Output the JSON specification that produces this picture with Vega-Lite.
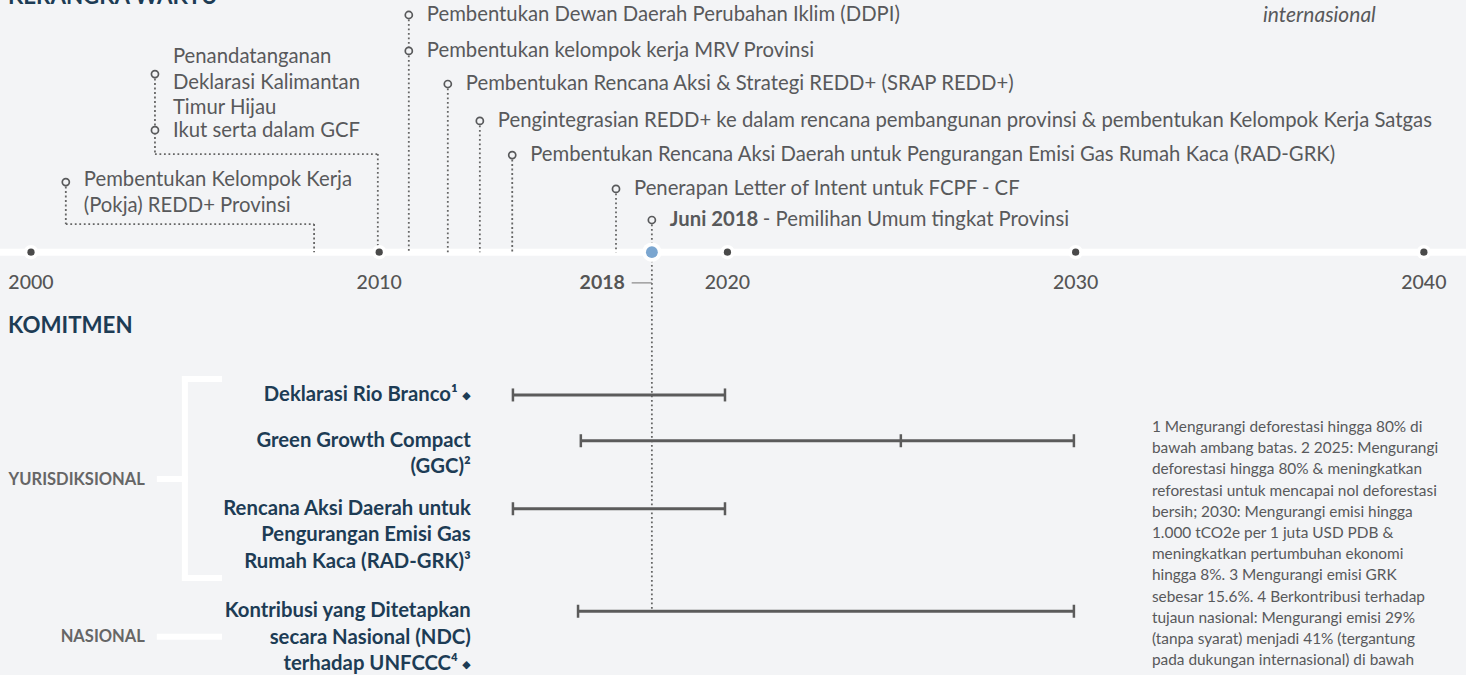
{
  "$schema": "https://vega.github.io/schema/vega-lite/v6.json",
  "width": 1466,
  "height": 675,
  "autosize": {"type": "none"},
  "padding": 0,
  "background": "#f3f4f6",
  "config": {"view": {"stroke": null}, "font": "Lato"},
  "datasets": {
    "line": [{"year": 1999.11, "year2": 2041.21, "level": 7.94}],
    "segs": [
      {"year": 2001.0, "year2": 2001.0, "level": 5.89, "level2": 7.12},
      {"year": 2001.0, "year2": 2008.13, "level": 7.12, "level2": 7.12},
      {"year": 2008.13, "year2": 2008.13, "level": 7.12, "level2": 7.94},
      {"year": 2003.56, "year2": 2003.56, "level": 2.73, "level2": 5.07},
      {"year": 2003.56, "year2": 2009.96, "level": 5.07, "level2": 5.07},
      {"year": 2009.96, "year2": 2009.96, "level": 5.07, "level2": 7.94},
      {"year": 2010.85, "year2": 2010.85, "level": 1.0, "level2": 7.94},
      {"year": 2011.97, "year2": 2011.97, "level": 3.02, "level2": 7.94},
      {"year": 2012.89, "year2": 2012.89, "level": 4.1, "level2": 7.94},
      {"year": 2013.82, "year2": 2013.82, "level": 5.1, "level2": 7.94},
      {"year": 2016.8, "year2": 2016.8, "level": 6.09, "level2": 7.94},
      {"year": 2017.83, "year2": 2017.83, "level": 7.0, "level2": 18.45}
    ],
    "events": [
      {"label": "Pembentukan Dewan Daerah Perubahan Iklim (DDPI)", "year": 2010.85, "level": 1.0, "tlevel": 1.0},
      {"label": "Pembentukan kelompok kerja MRV Provinsi", "year": 2010.85, "level": 2.05, "tlevel": 2.05},
      {"label": "Pembentukan Rencana Aksi & Strategi REDD+ (SRAP REDD+)", "year": 2011.97, "level": 3.02, "tlevel": 3.02},
      {"label": "Pengintegrasian REDD+ ke dalam rencana pembangunan provinsi & pembentukan Kelompok Kerja Satgas", "year": 2012.89, "level": 4.1, "tlevel": 4.1},
      {"label": "Pembentukan Rencana Aksi Daerah untuk Pengurangan Emisi Gas Rumah Kaca (RAD-GRK)", "year": 2013.82, "level": 5.1, "tlevel": 5.1},
      {"label": "Penerapan Letter of Intent untuk FCPF - CF", "year": 2016.8, "level": 6.09, "tlevel": 6.09},
      {"label": "Penandatanganan\nDeklarasi Kalimantan\nTimur Hijau", "year": 2003.56, "level": 2.73, "tlevel": 2.23},
      {"label": "Ikut serta dalam GCF", "year": 2003.56, "level": 4.37, "tlevel": 4.39},
      {"label": "Pembentukan Kelompok Kerja\n(Pokja) REDD+ Provinsi", "year": 2001.0, "level": 5.89, "tlevel": 5.83},
      {"label": "", "year": 2017.83, "level": 7.0, "tlevel": 7.0}
    ],
    "years": [
      {"year": 2000, "label": "2000", "level": 7.94, "tlevel": 8.84},
      {"year": 2010, "label": "2010", "level": 7.94, "tlevel": 8.84},
      {"year": 2020, "label": "2020", "level": 7.94, "tlevel": 8.84},
      {"year": 2030, "label": "2030", "level": 7.94, "tlevel": 8.84},
      {"year": 2040, "label": "2040", "level": 7.94, "tlevel": 8.84}
    ],
    "now": [{"year": 2017.83, "tick": 2017.25, "label": "2018", "level": 7.0, "dot": 7.94, "tlevel": 8.84}],
    "commitments": [
      {"name": "Deklarasi Rio Branco", "start": 2013.84, "end": 2019.93, "level": 12.12, "lx": 2012.63},
      {"name": "Green Growth Compact (GGC)", "start": 2015.79, "mid": 2024.98, "end": 2029.95, "level": 13.46, "lx": 2012.63},
      {"name": "Rencana Aksi Daerah untuk Pengurangan Emisi Gas Rumah Kaca (RAD-GRK)", "start": 2013.84, "end": 2019.93, "level": 15.45, "lx": 2012.63},
      {"name": "Kontribusi yang Ditetapkan secara Nasional (NDC) terhadap UNFCCC", "start": 2015.71, "end": 2029.95, "level": 18.45, "lx": 2012.63}
    ],
    "labels": [
      {"text": "Green Growth Compact\n(GGC)²", "lx": 2012.63, "level": 13.46},
      {"text": "Rencana Aksi Daerah untuk\nPengurangan Emisi Gas\nRumah Kaca (RAD-GRK)³", "lx": 2012.63, "level": 15.45},
      {"text": "Kontribusi yang Ditetapkan\nsecara Nasional (NDC)", "lx": 2012.63, "level": 18.45}
    ],
    "tails": [
      {"text": "Deklarasi Rio Branco¹", "lx": 2012.63, "level": 12.12},
      {"text": "terhadap UNFCCC⁴", "lx": 2012.63, "level": 20.0}
    ],
    "groups": [
      {"name": "YURISDIKSIONAL", "year": 2003.27, "level": 14.61},
      {"name": "NASIONAL", "year": 2003.27, "level": 19.2}
    ],
    "bracket": [
      {"year": 2004.42, "year2": 2004.42, "level": 11.65, "level2": 17.48},
      {"year": 2004.42, "year2": 2005.4, "level": 11.65, "level2": 11.65},
      {"year": 2004.42, "year2": 2005.4, "level": 17.48, "level2": 17.48},
      {"year": 2003.7, "year2": 2004.42, "level": 14.58, "level2": 14.58},
      {"year": 2003.7, "year2": 2005.4, "level": 19.2, "level2": 19.2}
    ],
    "titles": [
      {"name": "KERANGKA WAKTU", "year": 1999.34, "level": 0.69},
      {"name": "KOMITMEN", "year": 1999.34, "level": 10.31}
    ],
    "italic": [{"text": "internasional", "year": 2035.38, "level": 1.02}],
    "notes": [
      {"text": "1 Mengurangi deforestasi hingga 80% di\nbawah ambang batas. 2 2025: Mengurangi\ndeforestasi hingga 80% & meningkatkan\nreforestasi untuk mencapai nol deforestasi\nbersih; 2030: Mengurangi emisi hingga\n1.000 tCO2e per 1 juta USD PDB &\nmeningkatkan pertumbuhan ekonomi\nhingga 8%. 3 Mengurangi emisi GRK\nsebesar 15.6%. 4 Berkontribusi terhadap\ntujaun nasional: Mengurangi emisi 29%\n(tanpa syarat) menjadi 41% (tergantung\npada dukungan internasional) di bawah", "year": 2032.19, "level": 13.06}
    ]
  },
  "layer": [
    {
      "data": {"name": "line"},
      "mark": {"type": "rule", "color": "#ffffff", "strokeWidth": 7},
      "encoding": {
        "x": {"field": "year", "type": "quantitative", "scale": {"domain": [1999.11, 2041.21], "nice": false, "zero": false}, "axis": null},
        "x2": {"field": "year2"},
        "y": {"field": "level", "type": "quantitative", "scale": {"domain": [0.561, 20.316], "nice": false, "zero": false, "reverse": true}, "axis": null}
      }
    },
    {
      "data": {"name": "bracket"},
      "mark": {"type": "rule", "color": "#ffffff", "strokeWidth": 6, "strokeCap": "square"},
      "encoding": {
        "x": {"field": "year", "type": "quantitative", "scale": {"domain": [1999.11, 2041.21], "nice": false, "zero": false}, "axis": null},
        "x2": {"field": "year2"},
        "y": {"field": "level", "type": "quantitative", "scale": {"domain": [0.561, 20.316], "nice": false, "zero": false, "reverse": true}, "axis": null},
        "y2": {"field": "level2"}
      }
    },
    {
      "data": {"name": "segs"},
      "mark": {"type": "rule", "color": "#666666", "strokeWidth": 1.8, "strokeDash": [1.8, 2.7]},
      "encoding": {
        "x": {"field": "year", "type": "quantitative", "scale": {"domain": [1999.11, 2041.21], "nice": false, "zero": false}, "axis": null},
        "x2": {"field": "year2"},
        "y": {"field": "level", "type": "quantitative", "scale": {"domain": [0.561, 20.316], "nice": false, "zero": false, "reverse": true}, "axis": null},
        "y2": {"field": "level2"}
      }
    },
    {
      "data": {"name": "commitments"},
      "mark": {"type": "rule", "color": "#5b5b5b", "strokeWidth": 3},
      "encoding": {
        "x": {"field": "start", "type": "quantitative", "scale": {"domain": [1999.11, 2041.21], "nice": false, "zero": false}, "axis": null},
        "x2": {"field": "end"},
        "y": {"field": "level", "type": "quantitative", "scale": {"domain": [0.561, 20.316], "nice": false, "zero": false, "reverse": true}, "axis": null}
      }
    },
    {
      "data": {"name": "commitments"},
      "transform": [
        {"fold": ["start", "mid", "end"], "as": ["k", "year"]},
        {"filter": "isValid(datum.year)"}
      ],
      "mark": {"type": "tick", "orient": "vertical", "color": "#5b5b5b", "size": 13, "thickness": 2.5, "opacity": 1},
      "encoding": {
        "x": {"field": "year", "type": "quantitative", "scale": {"domain": [1999.11, 2041.21], "nice": false, "zero": false}, "axis": null},
        "y": {"field": "level", "type": "quantitative", "scale": {"domain": [0.561, 20.316], "nice": false, "zero": false, "reverse": true}, "axis": null}
      }
    },
    {
      "data": {"name": "years"},
      "mark": {"type": "circle", "color": "#ffffff", "size": 210, "opacity": 1},
      "encoding": {
        "x": {"field": "year", "type": "quantitative", "scale": {"domain": [1999.11, 2041.21], "nice": false, "zero": false}, "axis": null},
        "y": {"field": "level", "type": "quantitative", "scale": {"domain": [0.561, 20.316], "nice": false, "zero": false, "reverse": true}, "axis": null}
      }
    },
    {
      "data": {"name": "years"},
      "mark": {"type": "circle", "color": "#4a4a4a", "size": 52, "opacity": 1},
      "encoding": {
        "x": {"field": "year", "type": "quantitative", "scale": {"domain": [1999.11, 2041.21], "nice": false, "zero": false}, "axis": null},
        "y": {"field": "level", "type": "quantitative", "scale": {"domain": [0.561, 20.316], "nice": false, "zero": false, "reverse": true}, "axis": null}
      }
    },
    {
      "data": {"name": "now"},
      "mark": {"type": "circle", "color": "#ffffff", "size": 380, "opacity": 1},
      "encoding": {
        "x": {"field": "year", "type": "quantitative", "scale": {"domain": [1999.11, 2041.21], "nice": false, "zero": false}, "axis": null},
        "y": {"field": "dot", "type": "quantitative", "scale": {"domain": [0.561, 20.316], "nice": false, "zero": false, "reverse": true}, "axis": null}
      }
    },
    {
      "data": {"name": "now"},
      "mark": {"type": "circle", "color": "#7ba6d0", "size": 140, "opacity": 1},
      "encoding": {
        "x": {"field": "year", "type": "quantitative", "scale": {"domain": [1999.11, 2041.21], "nice": false, "zero": false}, "axis": null},
        "y": {"field": "dot", "type": "quantitative", "scale": {"domain": [0.561, 20.316], "nice": false, "zero": false, "reverse": true}, "axis": null}
      }
    },
    {
      "data": {"name": "events"},
      "mark": {"type": "circle", "fill": "#f3f4f6", "stroke": "#58595b", "strokeWidth": 1.7, "size": 50, "opacity": 1, "fillOpacity": 1},
      "encoding": {
        "x": {"field": "year", "type": "quantitative", "scale": {"domain": [1999.11, 2041.21], "nice": false, "zero": false}, "axis": null},
        "y": {"field": "level", "type": "quantitative", "scale": {"domain": [0.561, 20.316], "nice": false, "zero": false, "reverse": true}, "axis": null}
      }
    },
    {
      "data": {"name": "events"},
      "mark": {"type": "text", "align": "left", "baseline": "middle", "dx": 18, "fontSize": 20.3, "color": "#58595b", "lineBreak": "\n", "lineHeight": 25.5},
      "encoding": {
        "x": {"field": "year", "type": "quantitative", "scale": {"domain": [1999.11, 2041.21], "nice": false, "zero": false}, "axis": null},
        "y": {"field": "tlevel", "type": "quantitative", "scale": {"domain": [0.561, 20.316], "nice": false, "zero": false, "reverse": true}, "axis": null},
        "text": {"field": "label"}
      }
    },
    {
      "data": {"name": "now"},
      "mark": {"type": "text", "align": "left", "baseline": "middle", "dx": 18, "fontSize": 20.3, "fontWeight": "bold", "color": "#58595b"},
      "encoding": {
        "x": {"field": "year", "type": "quantitative", "scale": {"domain": [1999.11, 2041.21], "nice": false, "zero": false}, "axis": null},
        "y": {"field": "level", "type": "quantitative", "scale": {"domain": [0.561, 20.316], "nice": false, "zero": false, "reverse": true}, "axis": null},
        "text": {"value": "Juni 2018"}
      }
    },
    {
      "data": {"name": "now"},
      "mark": {"type": "text", "align": "left", "baseline": "middle", "dx": 111, "fontSize": 20.3, "color": "#58595b"},
      "encoding": {
        "x": {"field": "year", "type": "quantitative", "scale": {"domain": [1999.11, 2041.21], "nice": false, "zero": false}, "axis": null},
        "y": {"field": "level", "type": "quantitative", "scale": {"domain": [0.561, 20.316], "nice": false, "zero": false, "reverse": true}, "axis": null},
        "text": {"value": "- Pemilihan Umum tingkat Provinsi"}
      }
    },
    {
      "data": {"name": "years"},
      "mark": {"type": "text", "align": "center", "baseline": "middle", "fontSize": 19.5, "fontWeight": 500, "color": "#555555"},
      "encoding": {
        "x": {"field": "year", "type": "quantitative", "scale": {"domain": [1999.11, 2041.21], "nice": false, "zero": false}, "axis": null},
        "y": {"field": "tlevel", "type": "quantitative", "scale": {"domain": [0.561, 20.316], "nice": false, "zero": false, "reverse": true}, "axis": null},
        "text": {"field": "label"}
      }
    },
    {
      "data": {"name": "now"},
      "mark": {"type": "text", "align": "right", "baseline": "middle", "dx": -27, "fontSize": 19.5, "fontWeight": "bold", "color": "#555555"},
      "encoding": {
        "x": {"field": "year", "type": "quantitative", "scale": {"domain": [1999.11, 2041.21], "nice": false, "zero": false}, "axis": null},
        "y": {"field": "tlevel", "type": "quantitative", "scale": {"domain": [0.561, 20.316], "nice": false, "zero": false, "reverse": true}, "axis": null},
        "text": {"field": "label"}
      }
    },
    {
      "data": {"name": "now"},
      "mark": {"type": "rule", "color": "#888888", "strokeWidth": 1.2},
      "encoding": {
        "x": {"field": "tick", "type": "quantitative", "scale": {"domain": [1999.11, 2041.21], "nice": false, "zero": false}, "axis": null},
        "x2": {"field": "year"},
        "y": {"field": "tlevel", "type": "quantitative", "scale": {"domain": [0.561, 20.316], "nice": false, "zero": false, "reverse": true}, "axis": null}
      }
    },
    {
      "data": {"name": "titles"},
      "mark": {"type": "text", "align": "left", "baseline": "alphabetic", "fontSize": 22.3, "fontWeight": "bold", "color": "#1d3c55"},
      "encoding": {
        "x": {"field": "year", "type": "quantitative", "scale": {"domain": [1999.11, 2041.21], "nice": false, "zero": false}, "axis": null},
        "y": {"field": "level", "type": "quantitative", "scale": {"domain": [0.561, 20.316], "nice": false, "zero": false, "reverse": true}, "axis": null},
        "text": {"field": "name"}
      }
    },
    {
      "data": {"name": "italic"},
      "mark": {"type": "text", "align": "left", "baseline": "middle", "fontSize": 21, "fontStyle": "italic", "color": "#58595b"},
      "encoding": {
        "x": {"field": "year", "type": "quantitative", "scale": {"domain": [1999.11, 2041.21], "nice": false, "zero": false}, "axis": null},
        "y": {"field": "level", "type": "quantitative", "scale": {"domain": [0.561, 20.316], "nice": false, "zero": false, "reverse": true}, "axis": null},
        "text": {"field": "text"}
      }
    },
    {
      "data": {"name": "labels"},
      "mark": {"type": "text", "align": "right", "baseline": "middle", "fontSize": 20.3, "fontWeight": "bold", "color": "#1d3c55", "lineBreak": "\n", "lineHeight": 26.5},
      "encoding": {
        "x": {"field": "lx", "type": "quantitative", "scale": {"domain": [1999.11, 2041.21], "nice": false, "zero": false}, "axis": null},
        "y": {"field": "level", "type": "quantitative", "scale": {"domain": [0.561, 20.316], "nice": false, "zero": false, "reverse": true}, "axis": null},
        "text": {"field": "text"}
      }
    },
    {
      "data": {"name": "tails"},
      "mark": {"type": "text", "align": "right", "baseline": "middle", "dx": -13, "fontSize": 20.3, "fontWeight": "bold", "color": "#1d3c55"},
      "encoding": {
        "x": {"field": "lx", "type": "quantitative", "scale": {"domain": [1999.11, 2041.21], "nice": false, "zero": false}, "axis": null},
        "y": {"field": "level", "type": "quantitative", "scale": {"domain": [0.561, 20.316], "nice": false, "zero": false, "reverse": true}, "axis": null},
        "text": {"field": "text"}
      }
    },
    {
      "data": {"name": "tails"},
      "mark": {"type": "text", "align": "right", "baseline": "middle", "dy": 1, "fontSize": 11, "font": "DejaVu Sans", "color": "#1d3c55"},
      "encoding": {
        "x": {"field": "lx", "type": "quantitative", "scale": {"domain": [1999.11, 2041.21], "nice": false, "zero": false}, "axis": null},
        "y": {"field": "level", "type": "quantitative", "scale": {"domain": [0.561, 20.316], "nice": false, "zero": false, "reverse": true}, "axis": null},
        "text": {"value": "◆"}
      }
    },
    {
      "data": {"name": "groups"},
      "mark": {"type": "text", "align": "right", "baseline": "middle", "fontSize": 16.5, "fontWeight": "bold", "color": "#666666"},
      "encoding": {
        "x": {"field": "year", "type": "quantitative", "scale": {"domain": [1999.11, 2041.21], "nice": false, "zero": false}, "axis": null},
        "y": {"field": "level", "type": "quantitative", "scale": {"domain": [0.561, 20.316], "nice": false, "zero": false, "reverse": true}, "axis": null},
        "text": {"field": "name"}
      }
    },
    {
      "data": {"name": "notes"},
      "mark": {"type": "text", "align": "left", "baseline": "middle", "fontSize": 15.4, "color": "#58595b", "lineBreak": "\n", "lineHeight": 21.2},
      "encoding": {
        "x": {"field": "year", "type": "quantitative", "scale": {"domain": [1999.11, 2041.21], "nice": false, "zero": false}, "axis": null},
        "y": {"field": "level", "type": "quantitative", "scale": {"domain": [0.561, 20.316], "nice": false, "zero": false, "reverse": true}, "axis": null},
        "text": {"field": "text"}
      }
    }
  ]
}
